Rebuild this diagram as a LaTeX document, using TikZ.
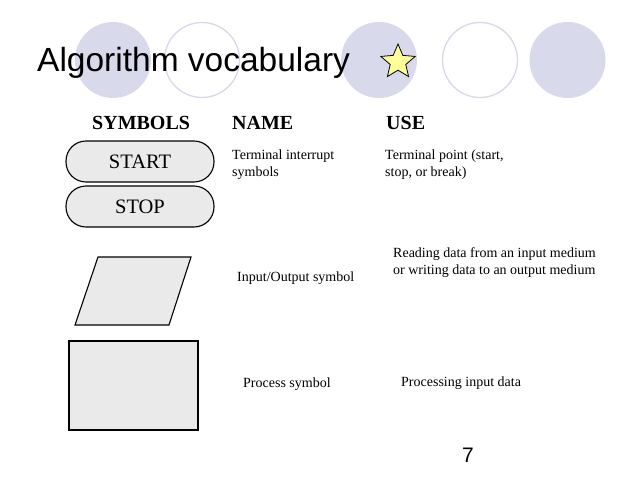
\documentclass[tikz,border=0pt]{standalone}
\usepackage{fontspec}
\setmainfont{Liberation Serif}
\newfontfamily\arialfont{Liberation Sans}
\usetikzlibrary{shapes.geometric}
\definecolor{lav}{HTML}{D9D9EC}
\definecolor{lavline}{HTML}{D8D8EA}
\definecolor{shapegray}{HTML}{EAEAEA}
\definecolor{staryellow}{HTML}{FFFF99}
\tikzset{
  dotfill/.style={fill=lav, draw=none},
  dotring/.style={draw=lavline, line width=1.3pt, fill=white},
  symshape/.style={draw=black, fill=shapegray, line width=1.1pt},
  termbox/.style={symshape, minimum width=148pt, minimum height=41pt, rounded corners=20pt, inner sep=0pt, font=\fontsize{20.5}{22}\selectfont},
  head/.style={anchor=base west, inner sep=0pt, font=\fontsize{20}{22}\selectfont\bfseries},
  body/.style={anchor=base west, inner sep=0pt, font=\fontsize{14}{16.5}\selectfont, align=left},
}
\begin{document}
\begin{tikzpicture}[x=1pt, y=-1pt]
\useasboundingbox (0,0) rectangle (638,479);
\fill[white] (0,0) rectangle (638,479);
% decorative circles
\path[dotfill] (113,60) circle (38);
\path[dotring] (202,60) circle (37.5);
\path[dotfill] (379,60) circle (38);
\path[dotring] (480,60) circle (37.5);
\path[dotfill] (567.5,60) circle (38);
% title
\node[anchor=base west, inner sep=0pt, font=\arialfont\fontsize{33.5}{36}\selectfont] (title) at (37,71) {Algorithm vocabulary};
\node[star, star points=5, star point ratio=2.2, minimum size=36pt, inner sep=0pt, draw=black, fill=staryellow, line width=0.8pt] (star) at (398,62) {};
% headers
\node[head] (hsym) at (92,129) {SYMBOLS};
\node[head] (hname) at (232,129) {NAME};
\node[head] (huse) at (386,129) {USE};
% terminals
\node[termbox] (start) at (140,161.5) {START};
\node[termbox] (stop) at (140,206.5) {STOP};
\node[body] (n1) at (232,176) {Terminal interrupt\\symbols};
\node[body] (u1) at (385,176) {Terminal point (start,\\stop, or break)};
% parallelogram
\draw[symshape] (98,257) -- (191,257) -- (169,325) -- (75,325) -- cycle;
\node[body] (n2) at (237,281) {Input/Output symbol};
\node[body] (u2) at (393,274) {Reading data from an input medium\\or writing data to an output medium};
% process rectangle
\draw[symshape] (69,341) rectangle (198,430);
\node[body] (n3) at (243,387) {Process symbol};
\node[body] (u3) at (401,386) {Processing input data};
% page number
\node[anchor=base, inner sep=0pt, font=\arialfont\fontsize{21}{24}\selectfont] (pg) at (468,462) {7};
\end{tikzpicture}
\end{document}
